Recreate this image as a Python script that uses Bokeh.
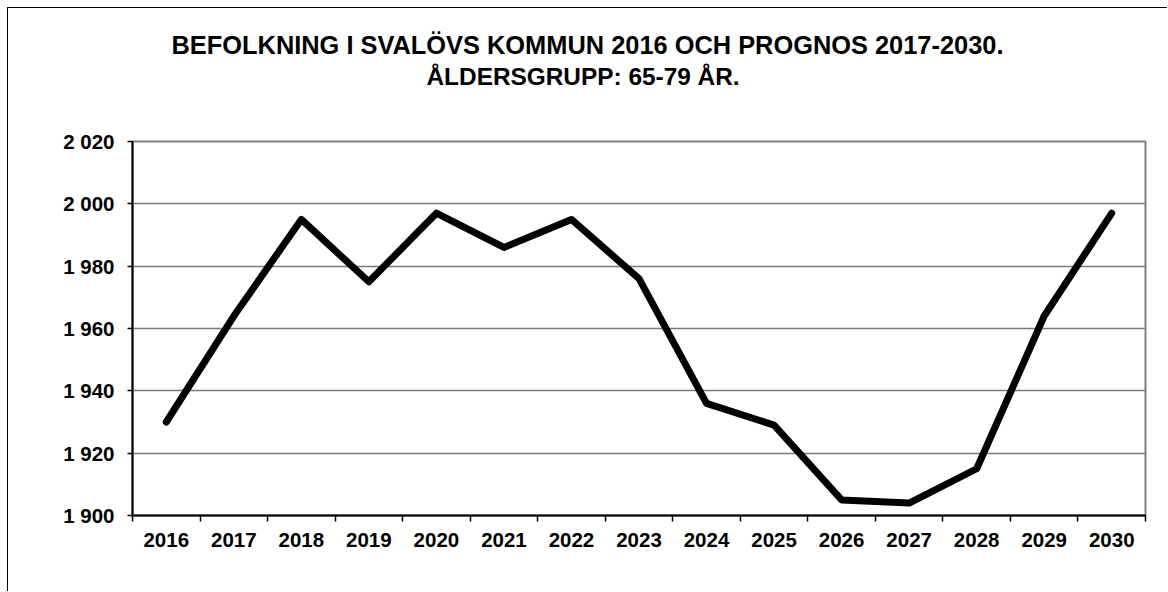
from bokeh.plotting import figure
from bokeh.models import Range1d, FixedTicker, Title, ColumnDataSource
from bokeh.embed import file_html
from bokeh.resources import INLINE

# ---- data ----
years = ["2016", "2017", "2018", "2019", "2020", "2021", "2022", "2023",
         "2024", "2025", "2026", "2027", "2028", "2029", "2030"]
population = [1930, 1964, 1995, 1975, 1997, 1986, 1995, 1976,
              1936, 1929, 1905, 1904, 1915, 1964, 1997]
y_ticks = [1900, 1920, 1940, 1960, 1980, 2000, 2020]
y_tick_labels = ["1 900", "1 920", "1 940", "1 960", "1 980", "2 000", "2 020"]
title_lines = ["BEFOLKNING I SVALÖVS KOMMUN 2016 OCH PROGNOS 2017-2030.",
               "ÅLDERSGRUPP: 65-79 ÅR."]

FONT = "Liberation Sans"

x_centers = [i + 0.5 for i in range(len(years))]
x_bounds = list(range(len(years) + 1))
source = ColumnDataSource(data=dict(x=x_centers, y=population, year=years))

p = figure(width=1160, height=584,
           x_range=Range1d(0, len(years)), y_range=Range1d(y_ticks[0], y_ticks[-1]),
           output_backend="svg", toolbar_location=None, title=None,
           min_border_left=124, min_border_top=133, min_border_right=23, min_border_bottom=77)
p.styles = {"margin-left": "7px", "margin-top": "7px",
            "border-left": "1px solid black", "border-top": "1px solid black"}
p.background_fill_color = "white"
p.border_fill_color = "white"
p.outline_line_color = "#808080"
p.outline_line_width = 2

p.line("x", "y", source=source, line_width=7, line_color="black",
       line_cap="round", line_join="round")

# titles: spacer closest to frame, then line 2, then line 1
spacer = Title(text=" ", text_font=FONT, text_font_size="1px", standoff=48)
t2 = Title(text=title_lines[1], align="left", offset=294, text_font=FONT,
           text_font_size="24.4px", text_font_style="bold", text_color="black", standoff=2)
t1 = Title(text=title_lines[0], align="left", offset=39, text_font=FONT,
           text_font_size="25.4px", text_font_style="bold", text_color="black", standoff=2)
p.add_layout(spacer, "above")
p.add_layout(t2, "above")
p.add_layout(t1, "above")

# x axis
xa = p.xaxis[0]
xa.ticker = FixedTicker(ticks=x_centers, minor_ticks=x_bounds)
xa.major_label_overrides = {c: y for c, y in zip(x_centers, years)}
xa.major_tick_out = 0
xa.major_tick_in = 0
xa.minor_tick_out = 6
xa.minor_tick_in = 0
xa.minor_tick_line_color = "black"
xa.minor_tick_line_width = 1.5
xa.axis_line_color = "black"
xa.axis_line_width = 2
xa.major_label_standoff = 11
xa.major_label_text_font = FONT
xa.major_label_text_font_size = "20.5px"
xa.major_label_text_font_style = "bold"
xa.major_label_text_color = "black"

# y axis
ya = p.yaxis[0]
ya.ticker = FixedTicker(ticks=y_ticks)
ya.major_label_overrides = {t: l for t, l in zip(y_ticks, y_tick_labels)}
ya.major_tick_out = 5
ya.major_tick_in = 0
ya.major_tick_line_color = "black"
ya.major_tick_line_width = 1.5
ya.minor_tick_line_color = None
ya.axis_line_color = "black"
ya.axis_line_width = 2
ya.major_label_standoff = 13
ya.major_label_text_font = FONT
ya.major_label_text_font_size = "20.5px"
ya.major_label_text_font_style = "bold"
ya.major_label_text_color = "black"

p.xgrid.grid_line_color = None
p.ygrid.ticker = FixedTicker(ticks=y_ticks)
p.ygrid.grid_line_color = "#7a7a7a"
p.ygrid.grid_line_width = 1.5

open("out.html", "w").write(file_html(p, INLINE))
